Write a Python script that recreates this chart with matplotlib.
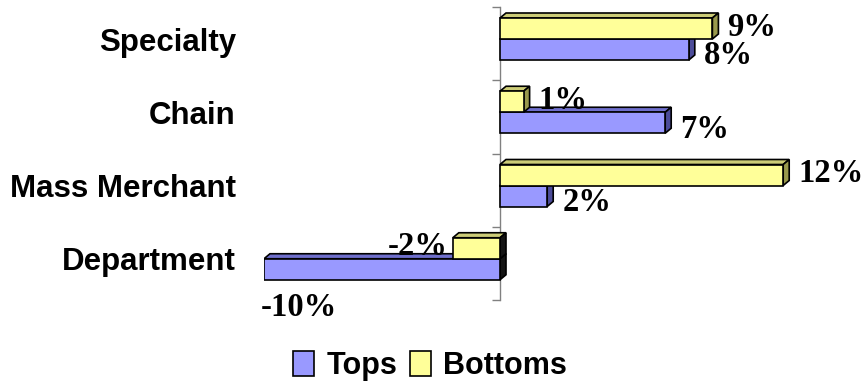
import matplotlib
matplotlib.use("Agg")
import matplotlib.pyplot as plt
from matplotlib.patches import Polygon, Patch
from matplotlib import transforms

# Data
categories = ["Specialty", "Chain", "Mass Merchant", "Department"]
tops = [8, 7, 2, -10]
bottoms = [9, 1, 12, -2]
series_names = ["Tops", "Bottoms"]

# Styling
BLUE = ("#9999FF", "#6F6FCC", "#4C4C99")      # front, top, side
YELLOW = ("#FFFF99", "#CCCC77", "#99994C")
NEG_SIDE = "#141414"
XMIN, XMAX = -10, 15

W, H, DPI = 868, 390, 100
fig = plt.figure(figsize=(W / DPI, H / DPI), dpi=DPI)

ax_l, ax_r, ax_t, ax_b = 264, 854, 7, 300
ax = fig.add_axes([ax_l / W, 1 - ax_b / H, (ax_r - ax_l) / W, (ax_b - ax_t) / H])
ax.set_xlim(XMIN, XMAX)
ax.set_ylim(len(categories) - 0.5, -0.5)

px_x = (ax_r - ax_l) / (XMAX - XMIN)      # pixels per x unit
px_y = (ax_b - ax_t) / len(categories)    # pixels per category band

DEPTH_X, DEPTH_Y = 6 / px_x, 5 / px_y
BAR_H = 21 / px_y
FIRST_TOP = 11 / px_y


def bar3d(y_top, value, colors):
    face, top, side = colors
    x0, x1 = min(0, value), max(0, value)
    yb = y_top + BAR_H
    kw = dict(edgecolor="black", linewidth=1.2, joinstyle="miter", zorder=3)
    ax.add_patch(Polygon([(x0, y_top), (x1, y_top), (x1 + DEPTH_X, y_top - DEPTH_Y),
                          (x0 + DEPTH_X, y_top - DEPTH_Y)], closed=True, facecolor=top, **kw))
    side_col = side if value >= 0 else NEG_SIDE
    ax.add_patch(Polygon([(x1, y_top), (x1 + DEPTH_X, y_top - DEPTH_Y),
                          (x1 + DEPTH_X, yb - DEPTH_Y), (x1, yb)], closed=True,
                         facecolor=side_col, **kw))
    ax.add_patch(Polygon([(x0, y_top), (x1, y_top), (x1, yb), (x0, yb)], closed=True,
                         facecolor=face, **kw))


label_font = dict(family="Liberation Serif", fontweight="bold", fontsize=23.5, color="black")


def value_label(y_center, value, dy_px):
    text = f"{value}%"
    if value >= 0:
        ax.annotate(text, (value, y_center), xytext=(15, -dy_px - 12),
                    textcoords="offset pixels", ha="left", va="baseline", **label_font)
    elif value - 2.5 < XMIN:
        ax.annotate(text, (value, y_center + BAR_H / 2), xytext=(-3, -36),
                    textcoords="offset pixels", ha="left", va="baseline", **label_font)
    else:
        ax.annotate(text, (value, y_center), xytext=(-5, -dy_px - 12),
                    textcoords="offset pixels", ha="right", va="baseline", **label_font)


for i, (t, b) in enumerate(zip(tops, bottoms)):
    y_yel = i - 0.5 + FIRST_TOP
    y_blu = y_yel + BAR_H
    bar3d(y_blu, t, BLUE)
    bar3d(y_yel, b, YELLOW)
    value_label(y_yel + BAR_H / 2, b, -5)
    value_label(y_blu + BAR_H / 2, t, 3)

# Axis: vertical line at zero with tick marks between categories
for s in ("top", "right", "bottom"):
    ax.spines[s].set_visible(False)
ax.spines["left"].set_position(("data", 0))
ax.spines["left"].set_color("#808080")
ax.spines["left"].set_linewidth(1.0)
ax.spines["left"].set_zorder(2)
ax.set_xticks([])
ax.set_yticks([k - 0.5 for k in range(len(categories) + 1)])
ax.tick_params(axis="y", length=6, width=1.0, color="#808080", direction="out",
               labelleft=False)
ax.patch.set_alpha(0)

# Category labels
cat_trans = transforms.blended_transform_factory(fig.transFigure, ax.transData)
for i, name in enumerate(categories):
    ax.annotate(name, (236 / W, i), xycoords=cat_trans, xytext=(0, -7),
                textcoords="offset pixels", ha="right", va="baseline",
                family="Liberation Sans", fontweight="bold", fontsize=22.5, color="black")

# Legend
handles = [Patch(facecolor=BLUE[0], edgecolor="black", linewidth=1.2),
           Patch(facecolor=YELLOW[0], edgecolor="black", linewidth=1.2)]
fig.legend(handles, series_names, loc="center", bbox_to_anchor=(430 / W, 1 - 366 / H),
           ncol=2, frameon=False, handlelength=0.7, handleheight=0.85,
           handletextpad=0.4, columnspacing=0.4,
           prop=dict(family="Liberation Sans", weight="bold", size=22))

fig.savefig("out.png", dpi=DPI)
